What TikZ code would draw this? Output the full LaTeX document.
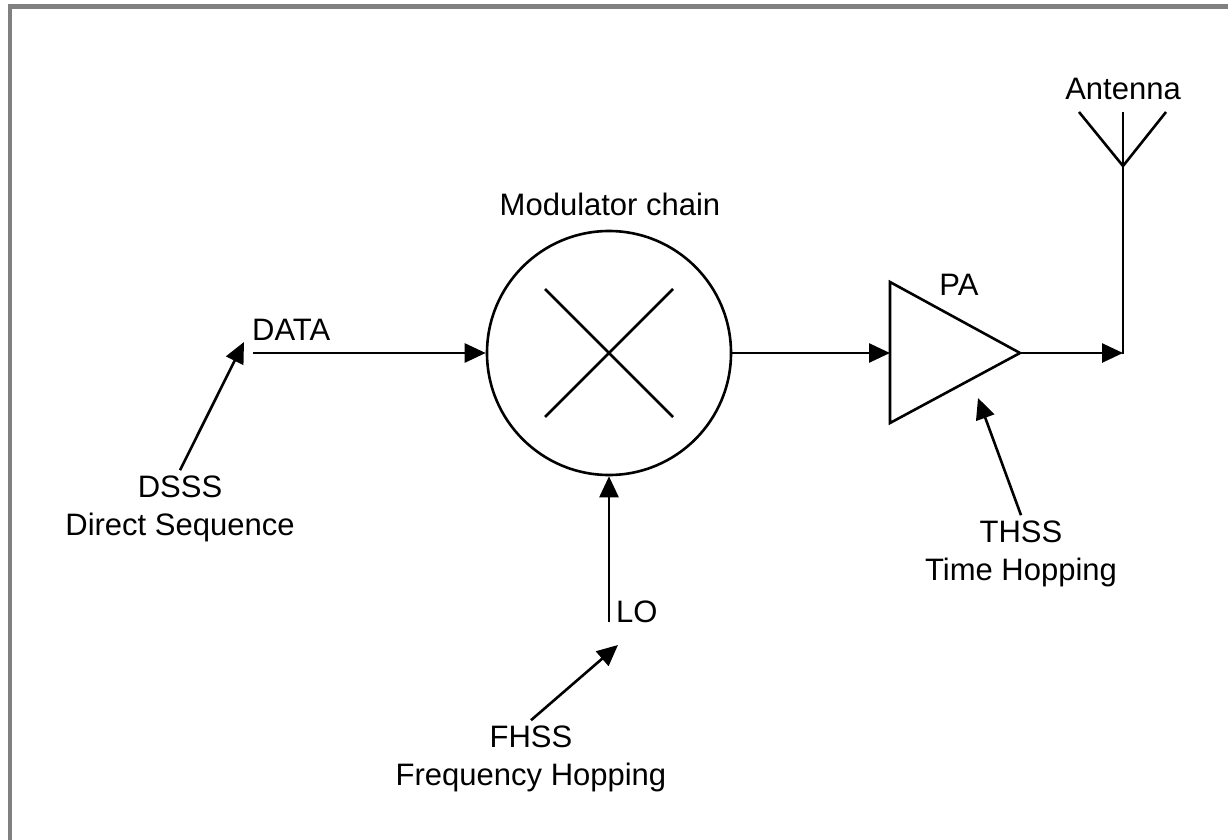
\documentclass[tikz,border=0pt]{standalone}
\usepackage{fontspec}
\setmainfont{Liberation Sans}
\usetikzlibrary{arrows.meta}
\definecolor{framegray}{RGB}{128,128,128}
\begin{document}
\begin{tikzpicture}[x=1pt,y=-1pt,
  wire/.style={line width=2.6pt, line cap=butt},
  arr/.style={wire, -{Triangle[length=21pt,width=19pt]}},
  lbl/.style={inner sep=0pt, font=\fontsize{31}{38}\selectfont},
  frameline/.style={draw=framegray, line width=4.5pt}]
\useasboundingbox (0,0) rectangle (1228,840);
% frame
\draw[frameline] (10,850) -- (10,6.5) -- (1240,6.5);
% mixer
\node[circle, draw, wire, minimum size=244pt, inner sep=0pt] (mix) at (609,353) {};
\draw[wire] (mix.center) ++(-64,-64) -- ++(128,128);
\draw[wire] (mix.center) ++(64,-64) -- ++(-128,128);
\node[lbl, anchor=base] (modlbl) at (610,215) {Modulator chain};
% DATA input
\coordinate (dataStart) at (253,353);
\node[lbl, anchor=base west] (datalbl) at (252,340) {DATA};
\draw[arr] (dataStart) -- (mix.west);
% DSSS
\node[lbl, anchor=base] (dsss) at (180,497) {\begin{tabular}[t]{@{}c@{}}DSSS\\Direct Sequence\end{tabular}};
\coordinate (dsssTip) at (244,342);
\draw[arr] (dsss.north) -- (dsssTip);
% LO
\coordinate (loEnd) at (609,622);
\node[lbl, anchor=base west] (lolbl) at (616,622) {LO};
\draw[arr] (loEnd) -- (mix.south);
% FHSS
\node[lbl, anchor=base] (fhss) at (531,747) {\begin{tabular}[t]{@{}c@{}}FHSS\\Frequency Hopping\end{tabular}};
\coordinate (fhssTip) at (618,645);
\draw[arr] (fhss.north) -- (fhssTip);
% PA
\coordinate (paIn) at (890,353);
\coordinate (paTop) at (890,282);
\coordinate (paBot) at (890,423);
\coordinate (paOut) at (1020,353);
\draw[wire, line join=miter] (paTop) -- (paOut) -- (paBot) -- cycle;
\node[lbl, anchor=base] (palbl) at (959,295) {PA};
\draw[arr] (mix.east) -- (paIn);
% THSS
\node[lbl, anchor=base] (thss) at (1021,542) {\begin{tabular}[t]{@{}c@{}}THSS\\Time Hopping\end{tabular}};
\coordinate (thssTip) at (978,398);
\draw[arr] (thss.north) -- (thssTip);
% antenna
\coordinate (ant) at (1123,353);
\coordinate (antTop) at (1123,112);
\coordinate (antL) at (1079,112);
\coordinate (antR) at (1166,112);
\coordinate (antV) at (1123,166);
\draw[arr] (paOut) -- (ant);
\draw[wire] ([yshift=-1.3pt]ant) -- (antTop);
\draw[wire] (antL) -- (antV) -- (antR);
\node[lbl, anchor=base] (antlbl) at (1123,100) {Antenna};
\end{tikzpicture}
\end{document}
